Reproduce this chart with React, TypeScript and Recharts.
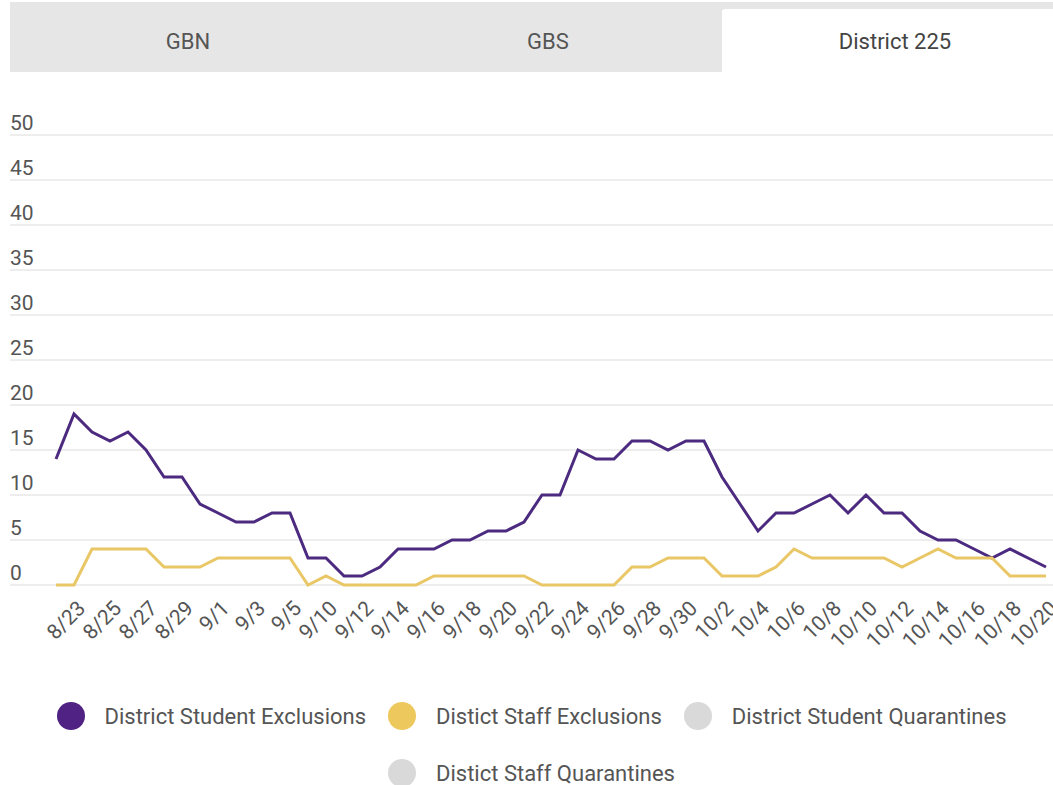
import { LineChart, Line, XAxis, YAxis, CartesianGrid } from 'recharts';

const dates = [
  '8/22', '8/23', '8/24', '8/25', '8/26', '8/27', '8/28', '8/29', '8/30', '9/1',
  '9/2', '9/3', '9/4', '9/5', '9/6', '9/10', '9/11', '9/12', '9/13', '9/14',
  '9/15', '9/16', '9/17', '9/18', '9/19', '9/20', '9/21', '9/22', '9/23', '9/24',
  '9/25', '9/26', '9/27', '9/28', '9/29', '9/30', '10/1', '10/2', '10/3', '10/4',
  '10/5', '10/6', '10/7', '10/8', '10/9', '10/10', '10/11', '10/12', '10/13', '10/14',
  '10/15', '10/16', '10/17', '10/18', '10/19', '10/20',
];

const tickDates = [
  '8/23', '8/25', '8/27', '8/29', '9/1', '9/3', '9/5', '9/10', '9/12', '9/14',
  '9/16', '9/18', '9/20', '9/22', '9/24', '9/26', '9/28', '9/30', '10/2', '10/4',
  '10/6', '10/8', '10/10', '10/12', '10/14', '10/16', '10/18', '10/20',
];

const studentExclusions = [
  14, 19, 17, 16, 17, 15, 12, 12, 9, 8,
  7, 7, 8, 8, 3, 3, 1, 1, 2, 4,
  4, 4, 5, 5, 6, 6, 7, 10, 10, 15,
  14, 14, 16, 16, 15, 16, 16, 12, 9, 6,
  8, 8, 9, 10, 8, 10, 8, 8, 6, 5,
  5, 4, 3, 4, 3, 2,
];

const staffExclusions = [
  0, 0, 4, 4, 4, 4, 2, 2, 2, 3,
  3, 3, 3, 3, 0, 1, 0, 0, 0, 0,
  0, 1, 1, 1, 1, 1, 1, 0, 0, 0,
  0, 0, 2, 2, 3, 3, 3, 1, 1, 1,
  2, 4, 3, 3, 3, 3, 3, 2, 3, 4,
  3, 3, 3, 1, 1, 1,
];

const yTicks = [0, 5, 10, 15, 20, 25, 30, 35, 40, 45, 50];

const tabs = ['GBN', 'GBS', 'District 225'];

const legendNames = [
  'District Student Exclusions',
  'Distict Staff Exclusions',
  'District Student Quarantines',
  'Distict Staff Quarantines',
];
const legendColors = ['#4f2283', '#edc85c', '#d9d9d9', '#d9d9d9'];

const PURPLE = '#4b2a7f';
const GOLD = '#e9c766';
const TEXT = '#555555';

const data = dates.map((d, i) => ({
  date: d,
  student: studentExclusions[i],
  staff: staffExclusions[i],
}));

const YTick = ({ y, payload }: any) => (
  <text x={10} y={y - 5} fill={TEXT} fontSize={21} fontFamily="Roboto">
    {payload.value}
  </text>
);

const XTick = ({ x, y, payload }: any) => {
  const ax = x + 2;
  const ay = y + 6;
  return (
    <text
      x={ax}
      y={ay}
      dy={15}
      textAnchor="end"
      transform={`rotate(-45 ${ax} ${ay})`}
      fill={TEXT}
      fontSize={21}
      fontFamily="Roboto"
    >
      {payload.value}
    </text>
  );
};

export default function App() {
  return (
    <div style={{ position: 'absolute', left: 0, top: 0, width: 1053, height: 785, background: '#fff', fontFamily: 'Roboto', overflow: 'hidden' }}>
      <div style={{ position: 'absolute', left: 10, top: 2, width: 1043, height: 70, background: '#e6e6e6' }} />
      <div style={{ position: 'absolute', left: 722, top: 9, width: 331, height: 63, background: '#fff', borderTopLeftRadius: 3 }} />
      {tabs.map((t, i) => (
        <div
          key={t}
          style={{
            position: 'absolute',
            top: 27,
            left: [113, 473, 820][i],
            width: 150,
            textAlign: 'center',
            fontSize: 22,
            color: i === 2 ? '#444' : '#555',
            lineHeight: '30px',
          }}
        >
          {t}
        </div>
      ))}

      <div style={{ position: 'absolute', left: 0, top: 0 }}>
        <LineChart width={1053} height={785} data={data} margin={{ top: 135, right: 7, bottom: 140, left: 0 }}>
          <CartesianGrid
            vertical={false}
            horizontal={(p: any) => (
              <line key={`g-${p.index}`} x1={10} x2={1053} y1={p.y1} y2={p.y2} stroke="#dcdcdc" strokeWidth={1} />
            )}
          />
          <XAxis
            dataKey="date"
            ticks={tickDates}
            interval={0}
            height={60}
            axisLine={false}
            tickLine={false}
            tick={<XTick />}
          />
          <YAxis
            domain={[0, 50]}
            ticks={yTicks}
            width={56}
            axisLine={false}
            tickLine={false}
            tick={<YTick />}
          />
          <Line type="linear" dataKey="student" stroke={PURPLE} strokeWidth={3} dot={false} isAnimationActive={false} />
          <Line type="linear" dataKey="staff" stroke={GOLD} strokeWidth={3} dot={false} isAnimationActive={false} />
        </LineChart>
      </div>

      <div
        style={{
          position: 'absolute',
          left: 10,
          top: 702,
          width: 1043,
          display: 'flex',
          flexWrap: 'wrap',
          justifyContent: 'center',
          rowGap: 29,
        }}
      >
        {legendNames.map((n, i) => (
          <div key={n} style={{ display: 'flex', alignItems: 'center', margin: '0 11px', height: 28 }}>
            <span style={{ width: 28, height: 28, borderRadius: 14, background: legendColors[i], display: 'inline-block' }} />
            <span style={{ marginLeft: 20, fontSize: 22, color: TEXT }}>{n}</span>
          </div>
        ))}
      </div>
    </div>
  );
}
